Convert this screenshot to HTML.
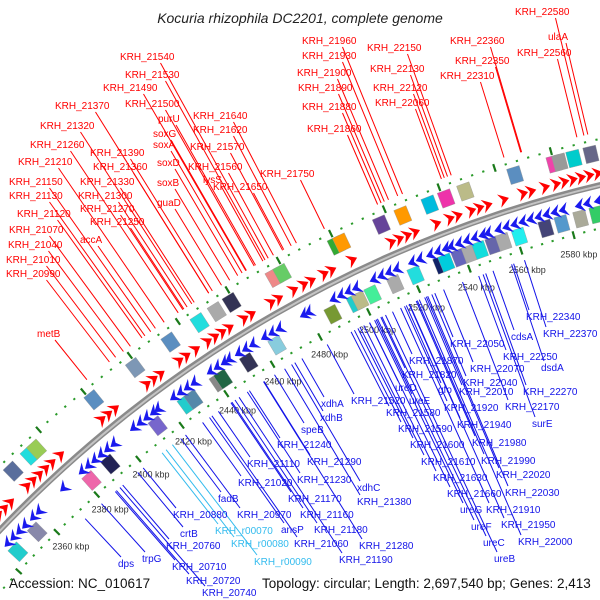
<!DOCTYPE html>
<html><head><meta charset="utf-8">
<style>
html,body{margin:0;padding:0;background:#fff;overflow:hidden;width:600px;height:600px;}
svg{display:block;font-family:"Liberation Sans",sans-serif;}
</style></head>
<body>
<svg id="map" width="600" height="600" viewBox="0 0 600 600" xmlns="http://www.w3.org/2000/svg">
<rect width="600" height="600" fill="#fff"/>
<g id="rings"></g>
<g id="lines"></g>
<g id="labels"></g>
<text x="300" y="23" text-anchor="middle" font-style="italic" font-size="14" fill="#222">Kocuria rhizophila DC2201, complete genome</text>
<text x="9" y="588" font-size="13.5" fill="#111">Accession: NC_010617</text>
<text x="262" y="588" font-size="13.5" fill="#111">Topology: circular; Length: 2,697,540 bp; Genes: 2,413</text>
</svg>
<script>
// ---- data ----
const genomeKbp = 2697.54;
const forwardGenes = [2348,2351,2354,2362,2365,2368,2371,2374,2378,2397,2400,2403,2417,2420,2423,2431,2434,2438,2443,2446,2449,2452,2458,2461,2469,2472,2478,2482,2485,2490,2493,2501,2516,2519,2522,2525,2533,2538,2541,2546,2549,2552,2558,2565,2568,2573,2577,2580,2583,2586,2589,2592,2595,2598];
const reverseGenes = [2343,2346,2349,2352,2356,2359,2371,2380,2383,2386,2389,2392,2395,2404,2407,2410,2413,2415,2422,2425,2428,2431,2438,2441,2444,2446,2450,2453,2456,2461,2464,2467,2477,2479,2489,2492,2495,2498,2505,2508,2511,2514,2520,2523,2527,2530,2533,2535,2538,2541,2544,2547,2549,2553,2556,2559,2562,2565,2568,2571,2574,2577,2583,2586,2590,2593,2596];
const outerBoxKbp = [2364,2372,2375,2401,2419,2434,2446,2453,2459,2476,2479,2500,2502,2517,2525,2535,2541,2548,2566,2580,2582,2587,2593];
const outerBoxColors = ["#5a6e9c","#2dd","#9c5","#5b8ec0","#7d97b5","#5b8ec0","#2dd","#aaa","#335","#e88","#6c6","#3a3","#f90","#649","#f90","#0bd","#e3a","#bb8","#5b8ec0","#e4a","#999","#0cc","#668"];
const innerBoxKbp = [2345,2355,2382,2391,2413,2426,2429,2440,2442,2453,2465,2488,2497,2499,2504,2513,2521,2531,2533,2538,2542,2546,2551,2555,2561,2571,2577,2584,2590];
const innerBoxColors = ["#2cc","#88a","#e6a","#225","#76c","#2cc","#58a","#888","#264","#335","#8cd","#793","#2cc","#bb8","#4e9","#aaa","#2dd","#126","#0cd","#66b","#aaa","#1dd","#66a","#aaa","#2ee","#447","#59c","#aa9","#3c6"];
const tickKbp = [2360,2380,2400,2420,2440,2460,2480,2500,2520,2540,2560,2580];
const tickLabels = ["2360 kbp","2380 kbp","2400 kbp","2420 kbp","2440 kbp","2460 kbp","2480 kbp","2500 kbp","2520 kbp","2540 kbp","2560 kbp","2580 kbp"];
const redLabels = [["KRH_22580",515,15],["ulaA",548,40],["KRH_22560",517,56],["KRH_22360",450,44],["KRH_22350",455,64],["KRH_22310",440,79],["KRH_22150",367,51],["KRH_22130",370,72],["KRH_22120",373,91],["KRH_22060",375,106],["KRH_21960",302,44],["KRH_21930",302,59],["KRH_21900",297,76],["KRH_21890",298,91],["KRH_21880",302,110],["KRH_21860",307,132],["KRH_21540",120,60],["KRH_21530",125,78],["KRH_21490",103,91],["KRH_21500",125,107],["purU",158,122],["KRH_21370",55,109],["KRH_21320",40,129],["soxG",153,137],["soxA",153,148],["KRH_21640",193,119],["KRH_21620",193,133],["KRH_21260",30,148],["KRH_21390",90,156],["KRH_21570",190,150],["soxD",157,166],["KRH_21210",18,165],["KRH_21360",93,170],["KRH_21560",188,170],["lysS",203,183],["KRH_21750",260,177],["KRH_21150",9,185],["KRH_21330",80,185],["soxB",157,186],["KRH_21650",213,190],["KRH_21130",9,199],["KRH_21300",78,199],["guaD",157,206],["KRH_21270",80,212],["KRH_21120",17,217],["KRH_21250",90,225],["accA",80,243],["KRH_21070",9,233],["KRH_21040",8,248],["KRH_21010",6,263],["KRH_20990",6,277],["metB",37,337]];
const blueLabels = [["KRH_22340",526,320],["KRH_22370",543,337],["cdsA",511,340],["KRH_22050",450,347],["KRH_22250",503,360],["KRH_21870",409,364],["KRH_22070",470,372],["dsdA",541,371],["KRH_21820",402,378],["KRH_22040",463,386],["ureD",395,391],["gfo",438,393],["KRH_22010",459,395],["KRH_22270",523,395],["xdhA",321,407],["KRH_21520",351,404],["ureE",409,404],["KRH_21580",386,416],["KRH_21920",444,411],["KRH_22170",505,410],["xdhB",320,421],["surE",532,427],["speB",301,433],["KRH_21590",398,432],["KRH_21940",457,428],["KRH_21240",277,448],["KRH_21600",410,448],["KRH_21980",472,446],["KRH_21110",247,467],["KRH_21290",307,465],["KRH_21610",421,465],["KRH_21990",481,464],["KRH_21230",297,483],["KRH_21020",238,486],["xdhC",357,491],["KRH_21630",433,481],["KRH_22020",496,478],["KRH_21380",357,505],["KRH_21170",288,502],["KRH_21660",447,497],["KRH_22030",505,496],["fadB",218,502],["KRH_20970",237,518],["KRH_21160",300,518],["ureG",460,513],["KRH_21910",486,513],["KRH_20880",173,518],["ansP",281,533],["KRH_21180",314,533],["ureF",471,530],["KRH_21950",501,528],["crtB",180,537],["KRH_21060",294,547],["KRH_21280",359,549],["ureC",483,546],["KRH_22000",518,545],["KRH_20760",166,549],["KRH_21190",339,563],["ureB",494,562],["dps",118,567],["trpG",142,562],["KRH_20710",172,570],["KRH_20720",186,584],["KRH_20740",202,596]];
const rnaLabels = [["KRH_r00070",215,534],["KRH_r00080",231,547],["KRH_r00090",254,565]];

// ---- geometry ----
const CX = 882, CY = 1370, R = 1218;
const DEG_PER_KBP = 360 / genomeKbp;
function ang(k){ return (-15.2 + (k - 2580) * DEG_PER_KBP) * Math.PI / 180; }
function pt(k, r){ const a = ang(k); return [CX + r * Math.sin(a), CY - r * Math.cos(a)]; }
const NS = "http://www.w3.org/2000/svg";
function mk(tag, parent){ const e = document.createElementNS(NS, tag); parent.appendChild(e); return e; }
const rings = document.getElementById('rings');
const linesG = document.getElementById('lines');
const labelsG = document.getElementById('labels');
function P(a){ return a[0].toFixed(1) + "," + a[1].toFixed(1); }

// backbone
const kStart = 2300, kEnd = 2640;
function arcPath(r){ const a = pt(kStart, r), b = pt(kEnd, r); return "M" + P(a) + " A" + r + "," + r + " 0 0 1 " + P(b); }
let bb = mk('path', rings);


bb.setAttribute('d', arcPath(R)); bb.setAttribute('fill', 'none'); bb.setAttribute('stroke', '#8a8a8a'); bb.setAttribute('stroke-width', '6');
let bb2 = mk('path', rings);


bb2.setAttribute('d', arcPath(R - 0.5)); bb2.setAttribute('fill', 'none'); bb2.setAttribute('stroke', '#c4c4c4'); bb2.setAttribute('stroke-width', '2');

// tick dots and dashes
for (let k = 2300; k <= 2640; k += 4) {
  const major = (k % 20 === 0);
  [R + 45, R - 42].forEach(function(rr){
    const d = mk('path', rings);
    
    
    const h = major ? 4 : 1;
    d.setAttribute('d', "M" + P(pt(k, rr - h)) + " L" + P(pt(k, rr + h)));
    d.setAttribute('stroke', major ? '#1a7a1a' : '#2a9a2a');
    d.setAttribute('stroke-width', '2.2');
  });
}
tickKbp.forEach(function(k, i){
  const p = pt(k, R - 62);
  const t = mk('text', rings);
  
  
  t.setAttribute('x', p[0].toFixed(1)); t.setAttribute('y', (p[1] + 3).toFixed(1));
  t.setAttribute('text-anchor', 'middle'); t.setAttribute('font-size', '9'); t.setAttribute('fill', '#333');
  t.textContent = tickLabels[i];
});

// boxes
function box(k, rr, color, name){
  const w = 4.5, h = 8;
  const pts = [pt(k - w/2, rr - h), pt(k + w/2, rr - h), pt(k + w/2, rr + h), pt(k - w/2, rr + h)];
  const b = mk('polygon', rings);
  
  
  b.setAttribute('points', pts.map(P).join(' '));
  b.setAttribute('fill', color); b.setAttribute('stroke', '#999'); b.setAttribute('stroke-width', '0.4');
}
outerBoxKbp.forEach(function(k, i){ box(k, R + 32, outerBoxColors[i], 'outer-feature'); });
innerBoxKbp.forEach(function(k, i){ box(k, R - 28, innerBoxColors[i], 'inner-feature'); });

// arrows
function arrow(k, rr, dir, color, name){
  const len = 3.6 * dir, h = 7;
  const pts = [pt(k, rr - h), pt(k + len * 0.35, rr), pt(k, rr + h), pt(k + len, rr)];
  const a = mk('polygon', rings);
  
  
  a.setAttribute('points', [pts[0], pts[3], pts[2], pts[1]].map(P).join(' '));
  a.setAttribute('fill', color);
}
forwardGenes.forEach(function(k){ arrow(k, R + 12, 1, '#f00', 'forward-gene-arrow'); });
reverseGenes.forEach(function(k){ arrow(k + 3.6, R - 15, -1, '#1a1aee', 'reverse-gene-arrow'); });

// labels and radial leader lines
function radialTo(x, y, rTarget){
  const dx = x - CX, dy = y - CY, d = Math.sqrt(dx*dx + dy*dy);
  return [CX + dx / d * rTarget, CY + dy / d * rTarget];
}
function addLabel(item, color, outside, name){
  const t = mk('text', labelsG);
  
  
  t.setAttribute('x', item[1]); t.setAttribute('y', item[2]);
  t.setAttribute('font-size', '10'); t.setAttribute('fill', color);
  t.textContent = item[0];
  const w = item[0].length * 6;
  let ax, ay;
  if (outside) { ax = item[1] + w * 0.75; ay = item[2] + 3; }
  else { ax = item[1] + 3; ay = item[2] - 10; }
  const e = radialTo(ax, ay, outside ? R + 52 : R - 52);
  const l = mk('line', linesG);
  
  
  l.setAttribute('x1', ax.toFixed(1)); l.setAttribute('y1', ay.toFixed(1));
  l.setAttribute('x2', e[0].toFixed(1)); l.setAttribute('y2', e[1].toFixed(1));
  l.setAttribute('stroke', color); l.setAttribute('stroke-width', '1');
}
redLabels.forEach(function(it){ addLabel(it, '#f00', true, 'forward-gene-label'); });
blueLabels.forEach(function(it){ addLabel(it, '#1212e8', false, 'reverse-gene-label'); });
rnaLabels.forEach(function(it){ addLabel(it, '#33bbee', false, 'rna-gene-label'); });
</script>
</body></html>
